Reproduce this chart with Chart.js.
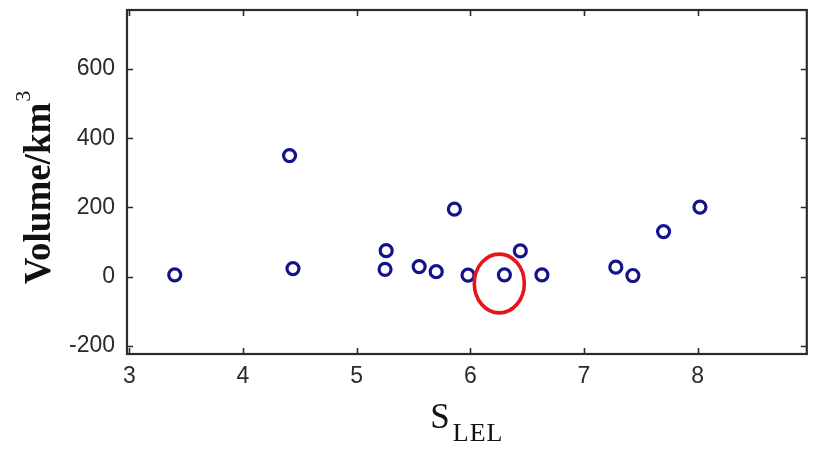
<!DOCTYPE html>
<html>
<head>
<meta charset="utf-8">
<script src="https://cdn.jsdelivr.net/npm/chart.js@4.4.1/dist/chart.umd.min.js"></script>
<style>
    html, body { margin: 0; padding: 0; background: #fff; }
    #wrap { width: 816px; height: 451px; }
</style>
</head>
<body>
<div id="wrap"><canvas id="volumeChart" width="816" height="451"></canvas></div>
<script>
// S_LEL against eruption volume (km^3)
const sLel   = [3.40, 4.41, 4.44, 5.26, 5.25, 5.55, 5.70, 5.86, 5.98, 6.30, 6.44, 6.63, 7.28, 7.43, 7.70, 8.02];
const volume = [5, 350, 23, 75, 21, 29, 14, 195, 4, 5, 74, 5, 27, 3, 130, 201];

const xTicks = [3, 4, 5, 6, 7, 8];
const yTicks = [-200, 0, 200, 400, 600];

// highlighted point: ring drawn in data units
const markCenter = { x: 6.255, y: -20 };
const markRadius = { x: 0.22, y: 85 };

const AXIS_COLOR = '#2b2b2b';
const TICK_FONT = { family: '"Liberation Sans", Arial, sans-serif', size: 23 };
const SERIF = '"Liberation Serif", "Times New Roman", serif';

// MATLAB style box: frame with inward ticks on all four sides
const boxPlugin = {
    id: 'boxFrame',
    afterDraw(chart) {
        const { ctx, chartArea: a, scales } = chart;
        const len = 6;
        ctx.save();
        ctx.strokeStyle = AXIS_COLOR;
        ctx.lineWidth = 1.6;
        scales.x.ticks.forEach(t => {
            const px = Math.round(scales.x.getPixelForValue(t.value)) + 0.5;
            ctx.beginPath();
            ctx.moveTo(px, a.bottom); ctx.lineTo(px, a.bottom - len);
            ctx.moveTo(px, a.top); ctx.lineTo(px, a.top + len);
            ctx.stroke();
        });
        scales.y.ticks.forEach(t => {
            const py = Math.round(scales.y.getPixelForValue(t.value)) + 0.5;
            ctx.beginPath();
            ctx.moveTo(a.left, py); ctx.lineTo(a.left + len, py);
            ctx.moveTo(a.right, py); ctx.lineTo(a.right - len, py);
            ctx.stroke();
        });
        ctx.lineWidth = 2.2;
        ctx.strokeRect(a.left, a.top, a.right - a.left, a.bottom - a.top);

        // x title: S with subscript LEL
        ctx.fillStyle = '#111';
        ctx.textBaseline = 'alphabetic';
        ctx.font = '35px ' + SERIF;
        const sW = ctx.measureText('S').width;
        ctx.font = '26px ' + SERIF;
        ctx.letterSpacing = '1px';
        const subW = ctx.measureText('LEL').width;
        const cx = (a.left + a.right) / 2;
        const x0 = cx - (sW + 3 + subW) / 2;
        ctx.letterSpacing = '0px';
        ctx.font = '35px ' + SERIF;
        ctx.fillText('S', x0, 428);
        ctx.font = '26px ' + SERIF;
        ctx.letterSpacing = '1px';
        ctx.fillText('LEL', x0 + sW + 3, 441);
        ctx.letterSpacing = '0px';

        // y title: Volume/km^3, rotated
        ctx.save();
        ctx.translate(50, (a.top + a.bottom) / 2 + 6);
        ctx.rotate(-Math.PI / 2);
        ctx.font = 'bold 37px ' + SERIF;
        const mainW = ctx.measureText('Volume/km').width;
        ctx.font = '22px ' + SERIF;
        const supW = ctx.measureText('3').width;
        const y0 = -(mainW + supW) / 2;
        ctx.font = 'bold 37px ' + SERIF;
        ctx.fillText('Volume/km', y0, 0);
        ctx.font = '22px ' + SERIF;
        ctx.fillText('3', y0 + mainW + 1, -20);
        ctx.restore();
        ctx.restore();
    },
    afterDatasetsDraw(chart) {
        const { ctx, scales } = chart;
        const px = scales.x.getPixelForValue(markCenter.x);
        const py = scales.y.getPixelForValue(markCenter.y);
        const rx = Math.abs(scales.x.getPixelForValue(markCenter.x + markRadius.x) - px);
        const ry = Math.abs(scales.y.getPixelForValue(markCenter.y + markRadius.y) - py);
        ctx.save();
        ctx.strokeStyle = '#e8141b';
        ctx.lineWidth = 3.6;
        ctx.beginPath();
        ctx.ellipse(px, py, rx, ry, 0, 0, Math.PI * 2);
        ctx.stroke();
        ctx.restore();
    }
};

new Chart(document.getElementById('volumeChart').getContext('2d'), {
    type: 'scatter',
    data: {
        datasets: [{
            data: sLel.map((x, i) => ({ x: x, y: volume[i] })),
            pointStyle: 'circle',
            pointRadius: 6,
            pointBorderWidth: 3.2,
            pointBorderColor: '#14148a',
            pointBackgroundColor: 'rgba(255,255,255,0)',
            pointHoverRadius: 6
        }]
    },
    options: {
        responsive: false,
        animation: false,
        events: [],
        layout: { padding: { left: 0, right: 9, top: 10, bottom: 0 } },
        plugins: { legend: { display: false }, tooltip: { enabled: false } },
        scales: {
            x: {
                type: 'linear',
                min: 2.98,
                max: 8.96,
                afterBuildTicks: scale => { scale.ticks = xTicks.map(v => ({ value: v })); },
                afterFit: scale => {
                    scale.height = 97;
                    scale.paddingLeft = 0;
                    scale.paddingRight = 0;
                },
                grid: { display: false, drawTicks: false },
                border: { display: false },
                ticks: { font: TICK_FONT, color: '#2a2a2a', padding: 9, maxRotation: 0 }
            },
            y: {
                type: 'linear',
                min: -224,
                max: 771,
                afterBuildTicks: scale => { scale.ticks = yTicks.map(v => ({ value: v })); },
                afterFit: scale => {
                    scale.width = 127;
                    scale.paddingTop = 0;
                    scale.paddingBottom = 0;
                },
                grid: { display: false, drawTicks: false },
                border: { display: false },
                ticks: { font: TICK_FONT, color: '#2a2a2a', padding: 12 }
            }
        }
    },
    plugins: [boxPlugin]
});
</script>
</body>
</html>
